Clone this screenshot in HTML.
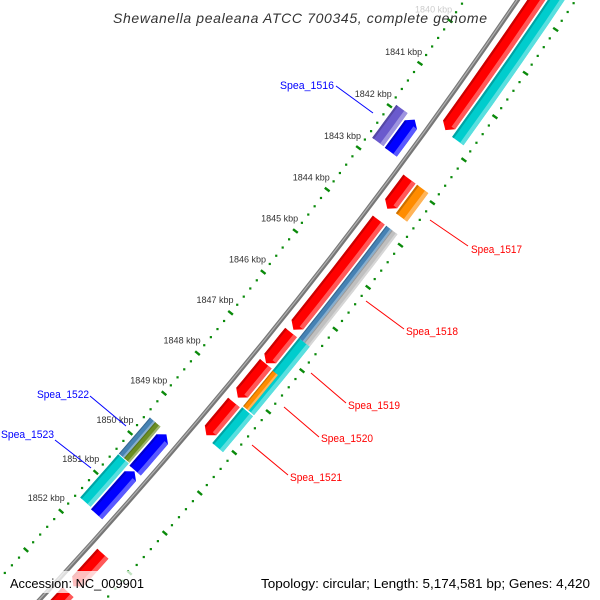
<!DOCTYPE html>
<html><head><meta charset="utf-8"><style>
html,body{margin:0;padding:0;background:#fff;width:600px;height:600px;overflow:hidden;}
svg{display:block;font-family:"Liberation Sans",sans-serif;}
</style></head><body>
<svg id="map" width="600" height="600" viewBox="0 0 600 600" xmlns="http://www.w3.org/2000/svg">
<rect width="600" height="600" fill="#fff"/>
<g id="ticks"></g>
<g id="backbone"></g>
<g id="features"></g>
<g id="labels" font-size="11">
  <line x1="336" y1="86" x2="373" y2="113" stroke="#0000ff"/>
  <text x="280" y="89" fill="#0000ff" textLength="54" lengthAdjust="spacingAndGlyphs">Spea_1516</text>
  <line x1="430" y1="220" x2="468" y2="246" stroke="#ff0000"/>
  <text x="471" y="253" fill="#ff0000" textLength="51" lengthAdjust="spacingAndGlyphs">Spea_1517</text>
  <line x1="366" y1="301" x2="404" y2="329" stroke="#ff0000"/>
  <text x="406" y="335" fill="#ff0000" textLength="52" lengthAdjust="spacingAndGlyphs">Spea_1518</text>
  <line x1="311" y1="373" x2="346" y2="403" stroke="#ff0000"/>
  <text x="348" y="409" fill="#ff0000" textLength="52" lengthAdjust="spacingAndGlyphs">Spea_1519</text>
  <line x1="284" y1="407" x2="319" y2="437" stroke="#ff0000"/>
  <text x="321" y="442" fill="#ff0000" textLength="52" lengthAdjust="spacingAndGlyphs">Spea_1520</text>
  <line x1="252" y1="445" x2="288" y2="475" stroke="#ff0000"/>
  <text x="290" y="481" fill="#ff0000" textLength="52" lengthAdjust="spacingAndGlyphs">Spea_1521</text>
  <line x1="90" y1="396" x2="126" y2="426" stroke="#0000ff"/>
  <text x="37" y="398" fill="#0000ff" textLength="52" lengthAdjust="spacingAndGlyphs">Spea_1522</text>
  <line x1="55" y1="440" x2="91" y2="468" stroke="#0000ff"/>
  <text x="1" y="438" fill="#0000ff" textLength="53" lengthAdjust="spacingAndGlyphs">Spea_1523</text>
</g>
<text x="300" y="23" text-anchor="middle" font-size="14" font-style="italic" fill="#333" textLength="374" lengthAdjust="spacing">Shewanella pealeana ATCC 700345, complete genome</text>
<rect x="7" y="571" width="140" height="22" fill="#fff" fill-opacity="0.75"/>
<text x="10" y="588" font-size="13" fill="#000" textLength="134" lengthAdjust="spacingAndGlyphs">Accession: NC_009901</text>
<text x="261" y="588" font-size="13" fill="#000" textLength="329" lengthAdjust="spacingAndGlyphs">Topology: circular; Length: 5,174,581 bp; Genes: 4,420</text>
</svg>
<script>
// ---- data ----
const featStart  = [1838.0, 1838.0, 1841.93, 1841.91, 1842.90, 1842.90, 1843.87, 1843.87, 1843.87, 1846.57, 1847.33, 1848.28, 1846.56, 1847.35, 1848.25, 1849.57, 1850.50, 1849.53, 1849.53, 1850.46, 1852.07, 1853.05];
const featEnd    = [1841.75, 1841.78, 1842.70, 1842.69, 1843.60, 1843.57, 1846.50, 1846.56, 1846.56, 1847.32, 1848.16, 1849.09, 1848.22, 1848.22, 1849.13, 1850.48, 1851.59, 1850.44, 1850.44, 1851.56, 1852.90, 1854.20];
const featTrack  = ['f1','f2','r1','r2','f1','f2','f1','f2i','f2o','f1','f1','f1','f2','f2i','f2','r1','r1','r2o','r2i','r2','f1','f1'];
const featColor  = ['#ff0000','#00cdcd','#0000ff','#6a5acd','#ff0000','#ff8c00','#ff0000','#4682b4','#c0c0c0','#ff0000','#ff0000','#ff0000','#00cdcd','#ff8c00','#00cdcd','#0000ff','#0000ff','#4682b4','#6b8e23','#00cdcd','#ff0000','#ff0000'];
const featArrow  = [1,0,-1,0,1,0,1,0,0,1,1,1,0,0,0,-1,-1,0,0,0,1,1];
const tickKbp    = [1840,1841,1842,1843,1844,1845,1846,1847,1848,1849,1850,1851,1852];

// ---- geometry (axis functions) ----
const CX=-3672, CY=-2848, R0=5066, A0=0.6184, DA=0.010394;
function ang(k){return A0+(k-1841)*DA;}
function pt(k,r){const a=ang(k);return [CX+(R0+r)*Math.cos(a), CY+(R0+r)*Math.sin(a)];}
const tracks={f1:[8,23],f2:[25,39],f2i:[25,32],f2o:[32,39],r1:[-23,-8],r2:[-39,-25],r2i:[-32,-25],r2o:[-39,-32]};
const NS='http://www.w3.org/2000/svg';
function mk(tag,attrs,parent){const e=document.createElementNS(NS,tag);for(const k in attrs)e.setAttribute(k,attrs[k]);parent.appendChild(e);return e;}
function arcPts(k1,k2,r,n){const o=[];for(let i=0;i<=n;i++){o.push(pt(k1+(k2-k1)*i/n,r));}return o;}
function P(a){return a.map(p=>p[0].toFixed(1)+','+p[1].toFixed(1)).join(' ');}
function shade(hex,f){let n=parseInt(hex.slice(1),16);let r=n>>16,g=(n>>8)&255,b=n&255;
 if(f>0){r+=(255-r)*f;g+=(255-g)*f;b+=(255-b)*f;}else{r*=1+f;g*=1+f;b*=1+f;}
 return 'rgb('+Math.round(r)+','+Math.round(g)+','+Math.round(b)+')';}

// ticks
const tg=document.getElementById('ticks');
[-44,48].forEach(rr=>{
  for(let i=0;i<=85;i++){
    const kk=Math.round((1838+i*0.2)*10)/10;
    if(Math.abs(kk-Math.round(kk))<1e-6){
      const a=pt(kk,rr-3),b=pt(kk,rr+3);
      const l=mk('line',{x1:a[0],y1:a[1],x2:b[0],y2:b[1],stroke:'#0a8a0a','stroke-width':2.4},tg);
      
      
    } else {
      const c=pt(kk,rr);
      const d=mk('rect',{x:c[0]-1,y:c[1]-1,width:2.2,height:2.2,fill:'#0a8a0a'},tg);
      
      
    }
  }
});
tickKbp.forEach(k=>{
  const c=pt(k,-44-20);
  const t=mk('text',{x:c[0],y:c[1]+3,'text-anchor':'middle','font-size':9,fill:k===1840?'#ccc':'#333'},tg);
  t.textContent=k+' kbp';
  
  
});

// backbone
const bg=document.getElementById('backbone');
const b1=mk('polyline',{points:P(arcPts(1836,1856,0,20)),fill:'none',stroke:'#777','stroke-width':4.5},bg);


const b2=mk('polyline',{points:P(arcPts(1836,1856,-0.5,20)),fill:'none',stroke:'#b0b0b0','stroke-width':1.2},bg);



// features
const fg=document.getElementById('features');
function featPoly(s,e,r1,r2,dir){
  const head=0.12, rm=(r1+r2)/2;
  if(dir===1){
    const eb=e-head;
    return P(arcPts(s,eb,r1,4).concat([pt(e,rm)],arcPts(eb,s,r2,4)));
  } else if(dir===-1){
    const sb=s+head;
    return P(arcPts(sb,e,r1,4).concat(arcPts(e,sb,r2,4),[pt(s,rm)]));
  }
  return P(arcPts(s,e,r1,4).concat(arcPts(e,s,r2,4)));
}
featStart.forEach((s,i)=>{
  const e=featEnd[i],tr=tracks[featTrack[i]],col=featColor[i],dir=featArrow[i];
  const g=mk('g',{},fg);
  
  
  const r1=tr[0],r2=tr[1],w=r2-r1;
  const s2=s+(dir===-1?0.12:0), e2=e-(dir===1?0.12:0);
  mk('polygon',{points:featPoly(s,e,r1,r2,dir),fill:col},g);
  mk('polygon',{points:featPoly(s2,e2,r2-w*0.3,r2,0),fill:shade(col,0.35)},g);
  mk('polygon',{points:featPoly(s2,e2,r1,r1+w*0.15,0),fill:shade(col,-0.2)},g);
});
</script>
</body></html>
